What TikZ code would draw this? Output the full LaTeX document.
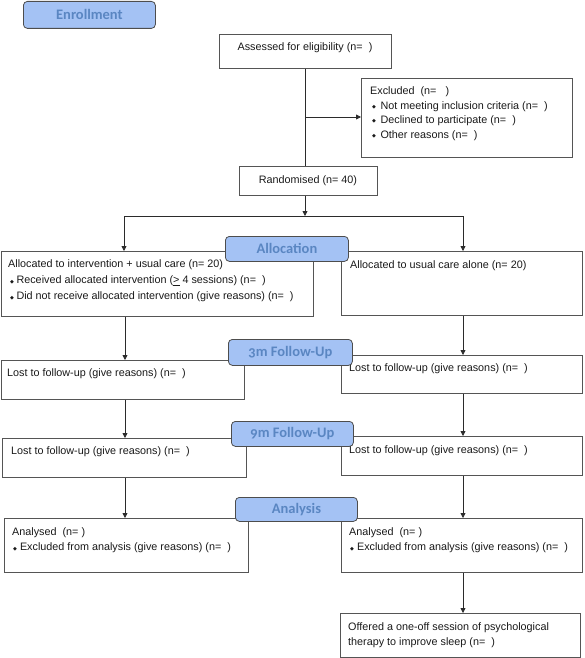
\documentclass[tikz,border=0pt]{standalone}
\usepackage{fontspec}
\setmainfont{Liberation Sans}
\newfontfamily\labf[Numbers=OldStyle]{Carlito}
\newfontfamily\symf{DejaVu Sans}
\usetikzlibrary{arrows.meta,calc}
\definecolor{boxc}{HTML}{555555}
\definecolor{labfill}{HTML}{A4C2F4}
\definecolor{labtext}{HTML}{5A86C2}
\definecolor{labdraw}{HTML}{4D4D4D}
\definecolor{linec}{HTML}{2B2B2B}
\newcommand\bul{\raisebox{0.9pt}{\symf\fontsize{5}{5}\selectfont ◆}}
\begin{document}
\begin{tikzpicture}[x=1pt,y=-1pt,
 box/.style={draw=boxc, line width=0.8pt, inner sep=0pt, anchor=north west},
 txt/.style={inner sep=0pt, anchor=west, font=\fontsize{10.8}{12}\selectfont, text=black!90, text height=7.8pt, text depth=2pt},
 phase/.style={draw=labdraw, line width=0.8pt, fill=labfill, rounded corners=4pt, inner sep=0pt, anchor=north west, font=\labf\bfseries\fontsize{14.5}{16}\selectfont, text=labtext},
 arr/.style={draw=linec, line width=0.8pt, -{Triangle[length=5pt,width=5pt]}},
 ln/.style={draw=linec, line width=0.8pt}]
\useasboundingbox (0,0) rectangle (585,658);

% boxes
\node[box, minimum width=172pt, minimum height=34pt] (assess) at (219,34) {};
\node[box, minimum width=211pt, minimum height=79pt] (excl) at (361,78) {};
\node[box, minimum width=138pt, minimum height=29pt] (rand) at (239,166) {};
\node[box, minimum width=312pt, minimum height=65pt] (allocL) at (1,251) {};
\node[box, minimum width=241pt, minimum height=64pt] (allocR) at (341,251) {};
\node[box, minimum width=243pt, minimum height=39pt] (lostAL) at (1,360) {};
\node[box, minimum width=241pt, minimum height=38pt] (lostAR) at (341,355) {};
\node[box, minimum width=244pt, minimum height=39pt] (lostBL) at (2,438) {};
\node[box, minimum width=241pt, minimum height=39pt] (lostBR) at (341,436) {};
\node[box, minimum width=244pt, minimum height=54pt] (anaL) at (4,518) {};
\node[box, minimum width=241pt, minimum height=54pt] (anaR) at (341,518) {};
\node[box, minimum width=240pt, minimum height=44pt] (offer) at (340,613) {};

% texts
\node[txt, anchor=center] (assessT) at (305,48) {Assessed for eligibility (n=~~)};
\node[txt] (exclT1) at (370,92) {Excluded~~(n=~~~)};
\node[txt] (exclT2) at (372,107) {\bul\hspace{4.5pt}Not meeting inclusion criteria (n=~~)};
\node[txt] (exclT3) at (372,121) {\bul\hspace{4.5pt}Declined to participate (n=~~)};
\node[txt] (exclT4) at (372,136) {\bul\hspace{4.5pt}Other reasons (n=~~)};
\node[txt, anchor=center] (randT) at (308,181) {Randomised (n= 40)};
\node[txt] (allocLT1) at (8,265) {Allocated to intervention + usual care (n= 20)};
\node[txt] (allocLT2) at (10,281) {\bul\hspace{2.5pt}Received allocated intervention (\underline{>} 4 sessions) (n=~~)};
\node[txt] (allocLT3) at (10,297) {\bul\hspace{2.5pt}Did not receive allocated intervention (give reasons) (n=~~)};
\node[txt] (allocRT) at (350,266) {Allocated to usual care alone (n= 20)};
\node[txt] (lostALT) at (7,374) {Lost to follow-up (give reasons) (n=~~)};
\node[txt] (lostART) at (349,369) {Lost to follow-up (give reasons) (n=~~)};
\node[txt] (lostBLT) at (11,452) {Lost to follow-up (give reasons) (n=~~)};
\node[txt] (lostBRT) at (349,451) {Lost to follow-up (give reasons) (n=~~)};
\node[txt] (anaLT1) at (12,533) {Analysed~~(n=~)};
\node[txt] (anaLT2) at (13,548) {\bul\hspace{3pt}Excluded from analysis (give reasons) (n=~~)};
\node[txt] (anaRT1) at (349,533) {Analysed~~(n=~)};
\node[txt] (anaRT2) at (350,548) {\bul\hspace{3pt}Excluded from analysis (give reasons) (n=~~)};
\node[txt] (offerT1) at (348,628) {Offered a one-off session of psychological};
\node[txt] (offerT2) at (348,643) {therapy to improve sleep (n=~~)};

% connectors
\draw[ln] (assess.south) -- (assess.south |- rand.north);
\coordinate (br) at (305,117);
\draw[arr] (br) -- (br -| excl.west);
\coordinate (split) at (305,216);
\draw[arr] (rand.south -| split) -- (split);
\coordinate (jl) at (124,216);
\coordinate (jr) at (463,216);
\draw[ln] (jl) -- (jr);
\draw[arr] (jl) -- (jl |- allocL.north);
\draw[arr] (jr) -- (jr |- allocR.north);
\coordinate (lx) at (125,0);
\coordinate (rx) at (463,0);
\draw[arr] (allocL.south -| lx) -- (lostAL.north -| lx);
\draw[arr] (allocR.south -| rx) -- (lostAR.north -| rx);
\draw[arr] (lostAL.south -| lx) -- (lostBL.north -| lx);
\draw[arr] (lostAR.south -| rx) -- (lostBR.north -| rx);
\draw[arr] (lostBL.south -| lx) -- (anaL.north -| lx);
\draw[arr] (lostBR.south -| rx) -- (anaR.north -| rx);
\draw[arr] (anaR.south -| rx) -- (offer.north -| rx);

% phase labels
\node[phase, minimum width=132pt, minimum height=27pt] (enr) at (23,1) {Enrollment};
\node[phase, minimum width=123pt, minimum height=25pt] (alloc) at (225,236) {Allocation};
\node[phase, minimum width=124pt, minimum height=26pt] (fu3) at (228,339) {3m Follow-Up};
\node[phase, minimum width=122pt, minimum height=25pt] (fu9) at (231,421) {9m Follow-Up};
\node[phase, minimum width=122pt, minimum height=24pt] (ana) at (235,497) {Analysis};
\end{tikzpicture}
\end{document}
